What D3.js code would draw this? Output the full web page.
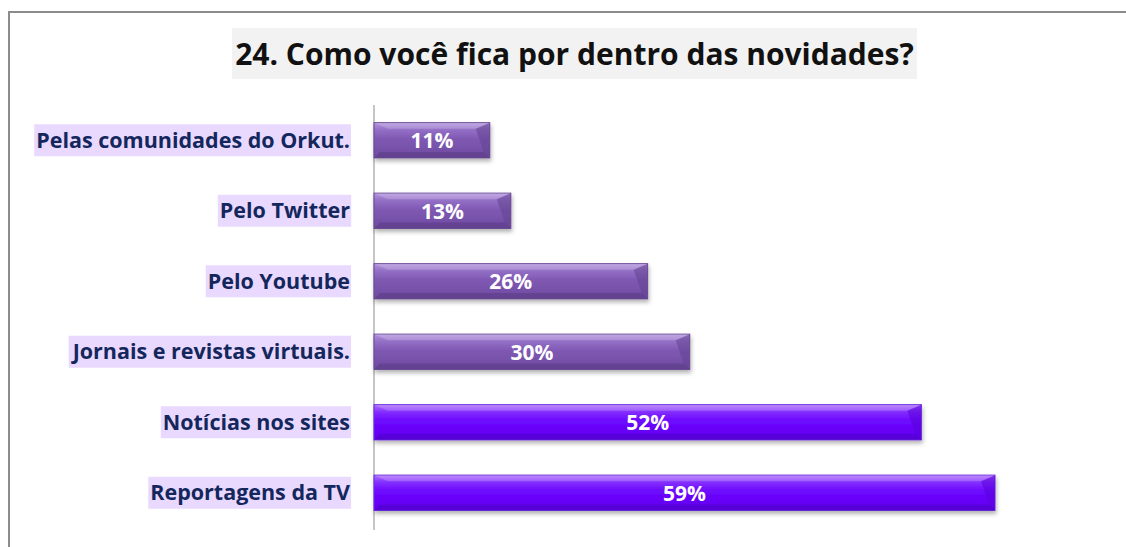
<!DOCTYPE html>
<html>
<head>
<meta charset="utf-8">
<script src="https://cdn.jsdelivr.net/npm/d3@7"></script>
<style>
  body { margin: 0; background: #fff; }
  svg { display: block; }
</style>
</head>
<body>
<svg class="chart"></svg>
<script>
let width = 1126;
let height = 547;

// Data
let categories = [
  "Pelas comunidades do Orkut.",
  "Pelo Twitter",
  "Pelo Youtube",
  "Jornais e revistas virtuais.",
  "Notícias nos sites",
  "Reportagens da TV"
];
let values = [11, 13, 26, 30, 52, 59];
let highlighted = [false, false, false, false, true, true];
let title = "24. Como você fica por dentro das novidades?";

let font = "'Open Sans', Lato, sans-serif";

let svg = d3.select(".chart")
  .attr("width", width)
  .attr("height", height);

let defs = svg.append("defs");

// gradients for the two bar styles
function addGradient(id, stops) {
  let g = defs.append("linearGradient")
    .attr("id", id)
    .attr("x1", 0).attr("y1", 0).attr("x2", 0).attr("y2", 1);
  stops.forEach(function(s) {
    g.append("stop").attr("offset", s[0]).attr("stop-color", s[1]);
  });
}
addGradient("muted", [[0, "#b595e0"], [0.2, "#9470c6"], [0.45, "#8059b4"], [1, "#6f4aa0"]]);
addGradient("vivid", [[0, "#b070ff"], [0.2, "#8430ff"], [0.45, "#6d08ff"], [1, "#6000ee"]]);

let shadow = defs.append("filter").attr("id", "shadow")
  .attr("x", "-5%").attr("y", "-20%").attr("width", "115%").attr("height", "160%");
shadow.append("feDropShadow")
  .attr("dx", 1).attr("dy", 3).attr("stdDeviation", 2)
  .attr("flood-color", "#000").attr("flood-opacity", 0.3);

// outer frame
svg.append("path")
  .attr("d", "M9,547 V12 H1126")
  .attr("fill", "none")
  .attr("stroke", "#8c8c8c")
  .attr("stroke-width", 2);

// title
let titleBox = svg.append("g");
titleBox.append("rect")
  .attr("x", 232).attr("y", 28)
  .attr("width", 685).attr("height", 51)
  .attr("fill", "#f2f2f2");
titleBox.append("text")
  .attr("x", 574.5).attr("y", 65)
  .attr("text-anchor", "middle")
  .style("font-family", font)
  .style("font-weight", "bold")
  .style("font-size", "30px")
  .style("fill", "#111")
  .text(title);

let x = d3.scaleLinear()
  .domain([0, 59])
  .range([374, 995]);

let y = d3.scaleBand()
  .domain(categories)
  .range([105, 528])
  .paddingInner(0.5)
  .paddingOuter(0.25);

// axis line
svg.append("line")
  .attr("x1", x(0)).attr("x2", x(0))
  .attr("y1", 105).attr("y2", 530)
  .attr("stroke", "#8c8c8c")
  .attr("stroke-width", 1);

// category labels with highlight background
let labels = svg.append("g").attr("class", "labels")
  .selectAll("g")
  .data(categories)
  .enter().append("g");

labels.append("text")
  .attr("x", 350)
  .attr("y", function(d) { return y(d) + y.bandwidth() / 2; })
  .attr("dy", "0.36em")
  .attr("text-anchor", "end")
  .style("font-family", font)
  .style("font-weight", "bold")
  .style("font-size", "21.5px")
  .style("fill", "#13275c")
  .text(function(d) { return d; });

labels.each(function() {
  let t = d3.select(this).select("text");
  let b = t.node().getBBox();
  d3.select(this).insert("rect", "text")
    .attr("x", b.x - 2)
    .attr("y", y(t.datum()) + y.bandwidth() / 2 - 16)
    .attr("width", b.width + 3)
    .attr("height", 32)
    .attr("fill", "#ead9ff");
});

// bars
let bars = svg.append("g").attr("class", "bars")
  .selectAll("g")
  .data(values)
  .enter().append("g");

bars.append("rect")
  .attr("x", x(0))
  .attr("y", function(d, i) { return y(categories[i]); })
  .attr("width", function(d) { return x(d) - x(0); })
  .attr("height", y.bandwidth())
  .attr("fill", function(d, i) { return highlighted[i] ? "url(#vivid)" : "url(#muted)"; })
  .attr("stroke", function(d, i) { return highlighted[i] ? "#6a2ce0" : "#6a4c96"; })
  .attr("stroke-width", 1)
  .attr("filter", "url(#shadow)");

// bevel: darker right edge and bottom edge, small diagonal corners
let bev = 6;
bars.append("path")
  .attr("d", function(d, i) {
    let x1 = x(d), y0 = y(categories[i]), y1 = y0 + y.bandwidth();
    return "M" + x1 + "," + y0 + "L" + (x1 - 14) + "," + (y0 + bev) + "L" + (x1 - bev) + "," + (y1 - bev) +
      "L" + x1 + "," + y1 + "Z";
  })
  .attr("fill", function(d, i) { return highlighted[i] ? "#5a00d8" : "#634490"; })
  .attr("opacity", 0.55);

bars.append("path")
  .attr("d", function(d, i) {
    let x0 = x(0), x1 = x(d), y0 = y(categories[i]), y1 = y0 + y.bandwidth();
    return "M" + x0 + "," + y1 + "L" + (x0 + bev) + "," + (y1 - bev) + "L" + (x1 - bev) + "," + (y1 - bev) +
      "L" + x1 + "," + y1 + "Z";
  })
  .attr("fill", function(d, i) { return highlighted[i] ? "#4e00c0" : "#563a80"; })
  .attr("opacity", 0.5);

bars.append("path")
  .attr("d", function(d, i) {
    let x0 = x(0), x1 = x(d), y0 = y(categories[i]);
    return "M" + x0 + "," + y0 + "L" + (x0 + 14) + "," + (y0 + bev) + "L" + (x1 - 14) + "," + (y0 + bev) +
      "L" + x1 + "," + y0 + "Z";
  })
  .attr("fill", "#ffffff")
  .attr("opacity", 0.18);

bars.append("text")
  .attr("x", function(d) { return (x(0) + x(d)) / 2; })
  .attr("y", function(d, i) { return y(categories[i]) + y.bandwidth() / 2; })
  .attr("dy", "0.37em")
  .attr("text-anchor", "middle")
  .style("font-family", font)
  .style("font-weight", "bold")
  .style("font-size", "21px")
  .style("fill", "#fff")
  .text(function(d) { return d + "%"; });
</script>
</body>
</html>
